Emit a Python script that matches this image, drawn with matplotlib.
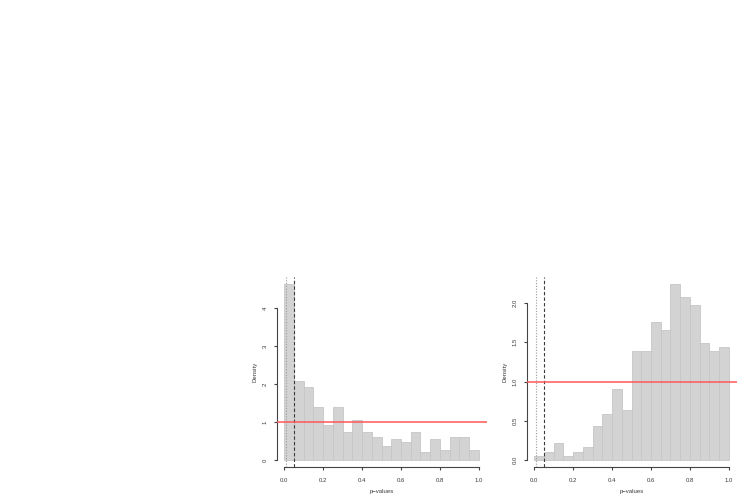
import matplotlib
matplotlib.use("Agg")
import matplotlib.pyplot as plt
import matplotlib.transforms as mtransforms

plt.rcParams['font.family'] = ['Liberation Sans', 'DejaVu Sans']

# ---- data ----
bin_edges = [0.00, 0.05, 0.10, 0.15, 0.20, 0.25, 0.30, 0.35, 0.40, 0.45, 0.50,
             0.55, 0.60, 0.65, 0.70, 0.75, 0.80, 0.85, 0.90, 0.95, 1.00]
density_left = [4.63, 2.08, 1.92, 1.39, 0.91, 1.39, 0.75, 1.06, 0.75, 0.60,
                0.38, 0.54, 0.48, 0.75, 0.22, 0.54, 0.26, 0.60, 0.60, 0.26]
density_right = [0.055, 0.106, 0.217, 0.055, 0.106, 0.16, 0.43, 0.59, 0.91, 0.64,
                 1.39, 1.39, 1.76, 1.66, 2.24, 2.08, 1.98, 1.49, 1.39, 1.44]
xticks = [0.0, 0.2, 0.4, 0.6, 0.8, 1.0]
xtick_labels = ["0.0", "0.2", "0.4", "0.6", "0.8", "1.0"]
yticks_left = [0, 1, 2, 3, 4]
ytick_labels_left = ["0", "1", "2", "3", "4"]
yticks_right = [0.0, 0.5, 1.0, 1.5, 2.0]
ytick_labels_right = ["0.0", "0.5", "1.0", "1.5", "2.0"]
vline_dotted = 0.01
vline_dashed = 0.05
ref_density = 1.0
xlabel = "p\u2212values"
ylabel = "Density"

W, H = 750, 501
fig = plt.figure(figsize=(7.5, 5.01), dpi=100)

axcol = '#444444'
txtcol = '#3a3a3a'
fs = 4.3


def panel(left_px, dens, yticks, ylabels):
    bottom_px = 467.0
    top_px = 277.3
    ax = fig.add_axes([left_px / W, (H - bottom_px) / H, 210.0 / W, (bottom_px - top_px) / H])
    m = max(dens)
    ax.set_xlim(-0.04, 1.04)
    ax.set_ylim(-0.04 * m, 1.04 * m)
    lefts = bin_edges[:-1]
    widths = [bin_edges[i + 1] - bin_edges[i] for i in range(len(lefts))]
    ax.bar(lefts, dens, width=widths, align='edge', color='#d3d3d3',
           edgecolor='#c6c6c6', linewidth=0.6, zorder=1)
    ax.axvline(vline_dotted, color='#9a9a9a', linestyle=(0, (1, 1.5)), linewidth=0.8, zorder=2)
    ax.axvline(vline_dashed, color='#3a3a3a', linestyle=(0, (3, 2)), linewidth=0.8, zorder=2)
    ax.axhline(ref_density, color='#ff5555', linewidth=1.2, alpha=0.9, zorder=3)
    for s in ['top', 'right']:
        ax.spines[s].set_visible(False)
    ax.spines['bottom'].set_bounds(xticks[0], xticks[-1])
    ax.spines['left'].set_bounds(yticks[0], yticks[-1])
    for s in ['bottom', 'left']:
        ax.spines[s].set_color(axcol)
        ax.spines[s].set_linewidth(0.8)
    ax.set_xticks(xticks)
    ax.set_xticklabels(xtick_labels)
    ax.set_yticks(yticks)
    ax.set_yticklabels(ylabels, rotation=90, va='center')
    ax.tick_params(axis='both', direction='out', length=2.2, width=0.8, color=axcol,
                   labelsize=fs, labelcolor=txtcol)
    ax.tick_params(axis='x', pad=5.6)
    ax.tick_params(axis='y', pad=4.0)
    # axis titles
    tx = mtransforms.offset_copy(ax.transAxes, fig=fig, x=0, y=-24.0 * 72 / 100, units='points')
    ax.text(0.5, 0.0, xlabel, transform=tx, ha='center', va='center', fontsize=fs, color=txtcol)
    ty = mtransforms.offset_copy(ax.transAxes, fig=fig, x=-21.7 * 72 / 100, y=0, units='points')
    ax.text(0.0, 0.5, ylabel, transform=ty, ha='center', va='center', rotation=90,
            fontsize=fs, color=txtcol)
    return ax


panel(276.5, density_left, yticks_left, ytick_labels_left)
panel(526.5, density_right, yticks_right, ytick_labels_right)

fig.savefig("out.png", dpi=100)
